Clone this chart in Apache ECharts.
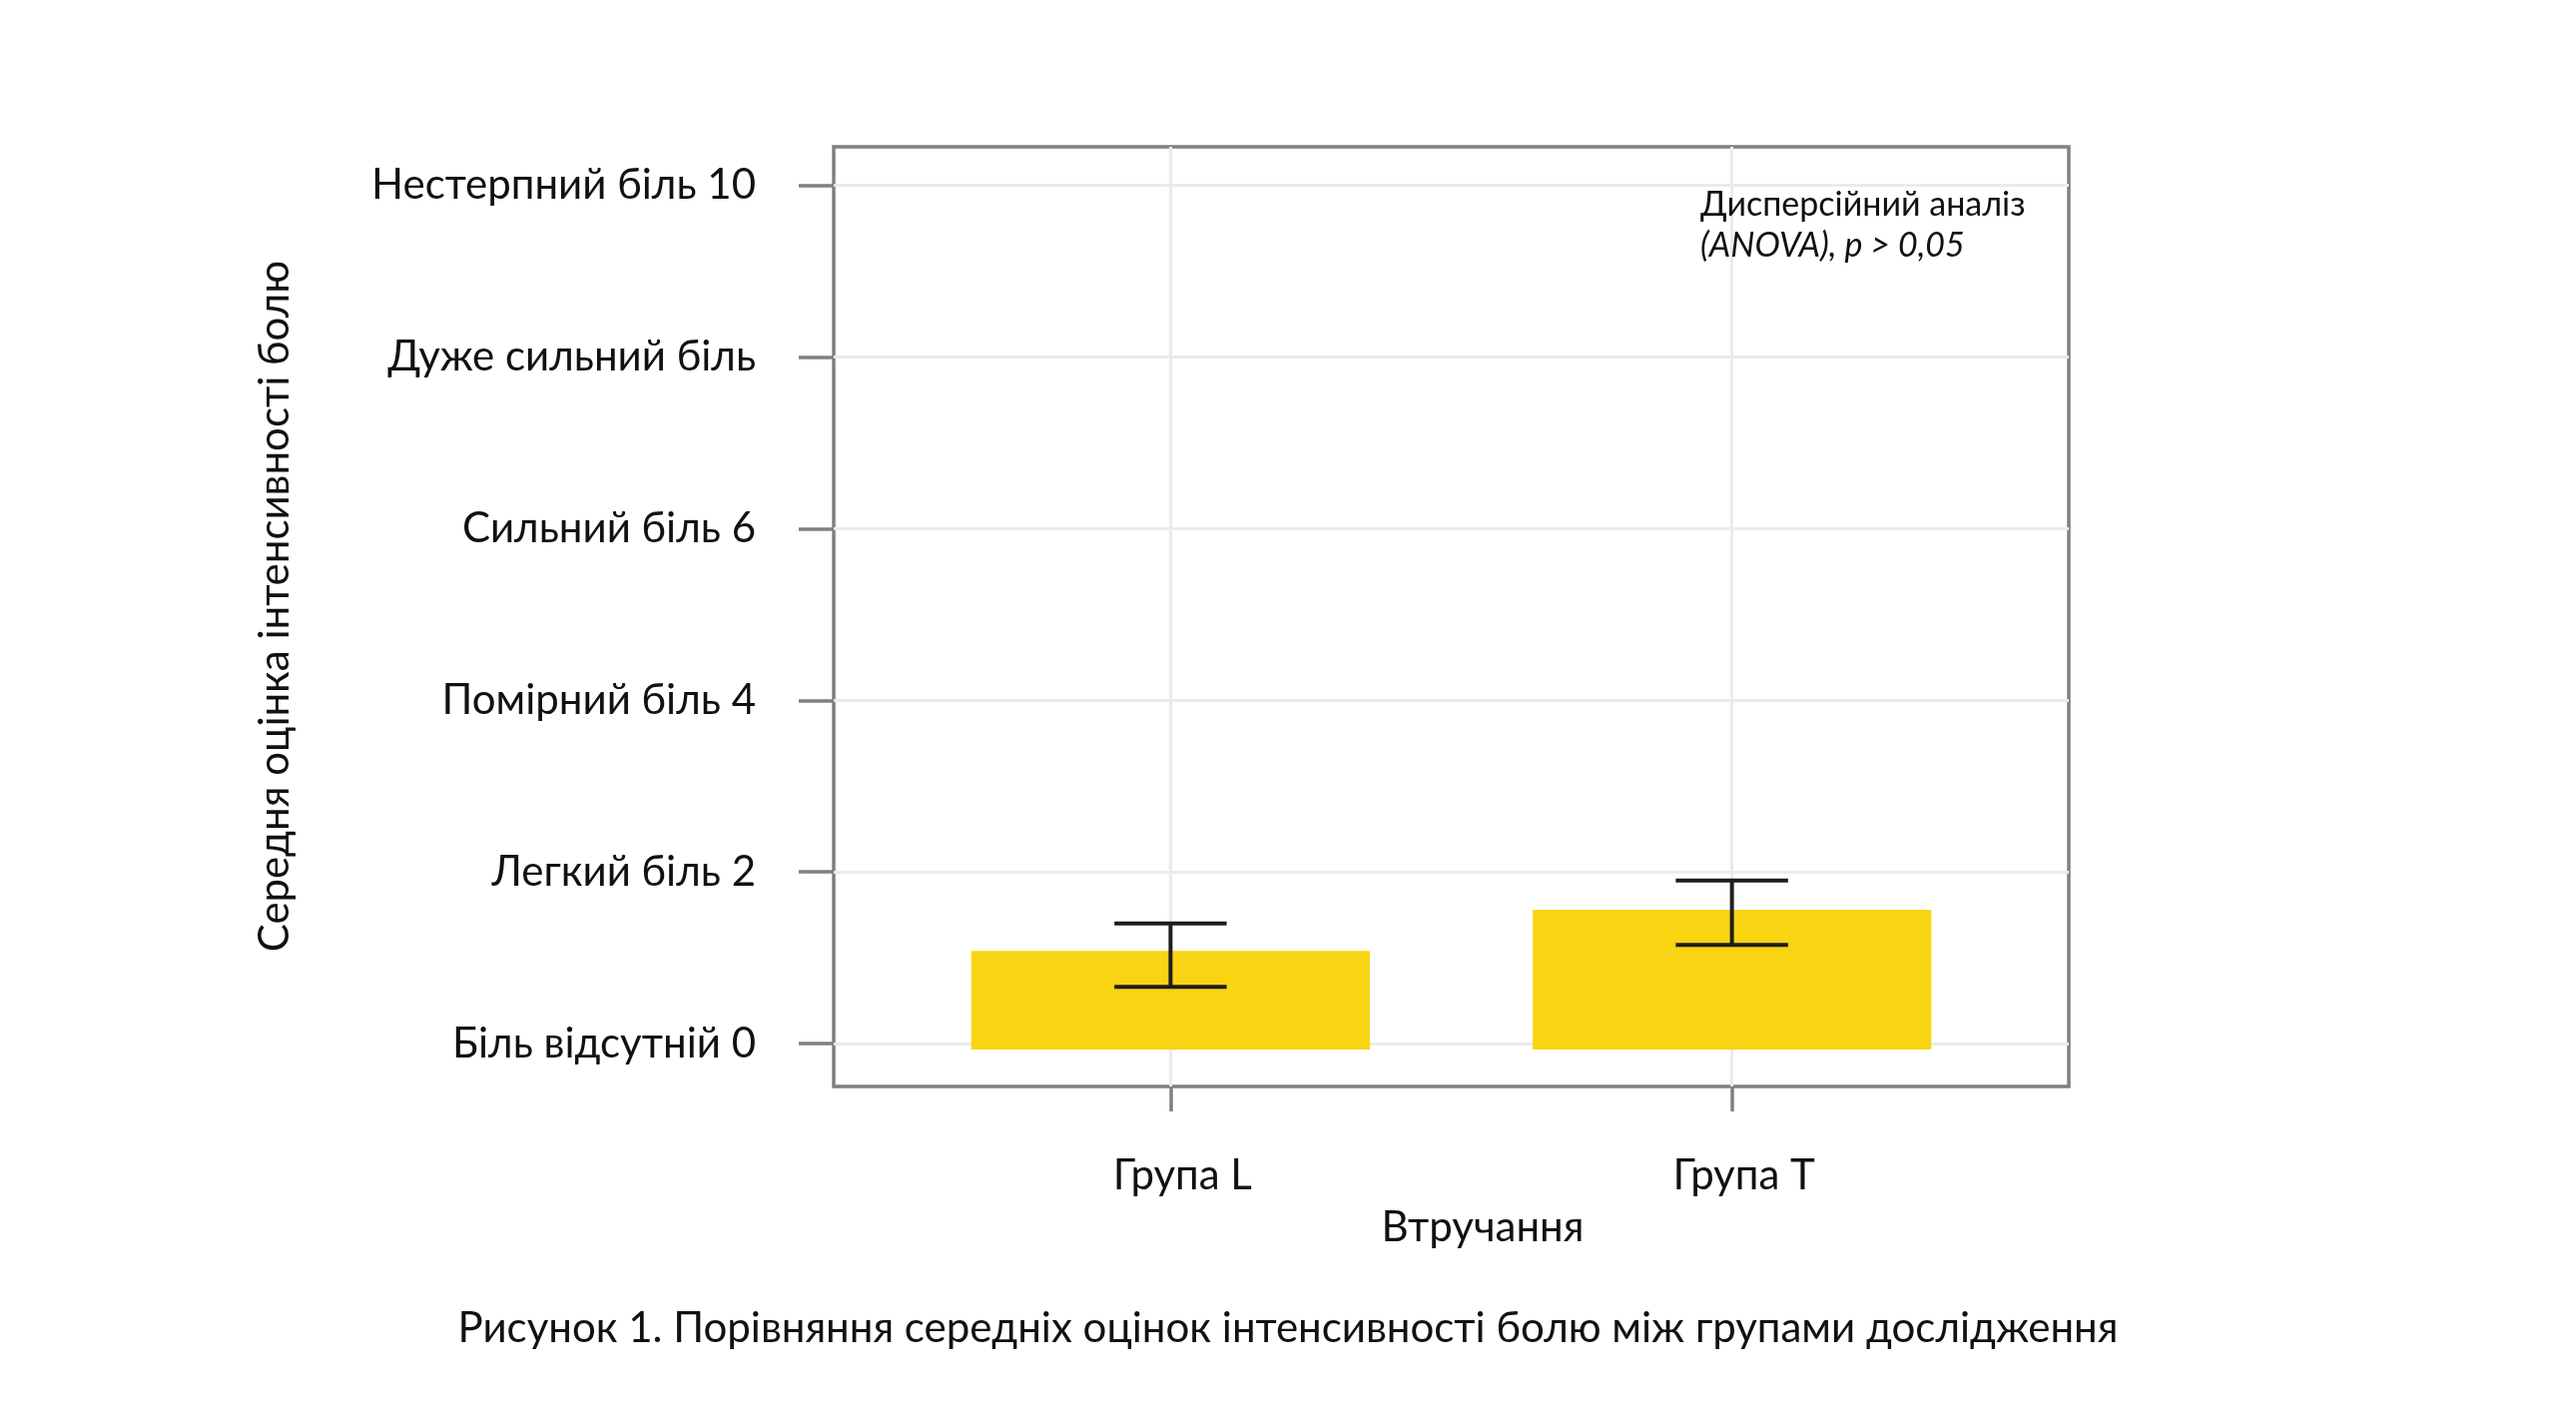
<!DOCTYPE html>
<html>
<head>
<meta charset="utf-8">
<script src="https://cdn.jsdelivr.net/npm/echarts@6/dist/echarts.min.js"></script>
<style>
  html, body { margin: 0; padding: 0; background: #fff; }
  #chart { width: 2580px; height: 1419px; }
</style>
</head>
<body>
<div id="chart"></div>
<script>
// групи дослідження та середні оцінки болю
var groups = ['Група L', 'Група T'];
var groupPos = [1, 2];
var meanPain = [1.08, 1.56];
var errLow = [0.66, 1.15];
var errHigh = [1.40, 1.90];
var barBase = -0.07;

var yTicks = [0, 2, 4, 6, 8, 10];
var yTickLabels = ['Біль відсутній 0', 'Легкий біль 2', 'Помірний біль 4',
  'Сильний біль 6', 'Дуже сильний біль', 'Нестерпний біль 10'];

var FONT = "Lato, 'Open Sans', sans-serif";
var BAR_W = 0.71;   // ширина стовпця в одиницях осі
var CAP_W = 0.2;    // ширина «вусів»

var chart = echarts.init(document.getElementById('chart'));

function renderBar(params, api) {
  var x = api.value(0);
  var p1 = api.coord([x - BAR_W / 2, api.value(1)]);
  var p2 = api.coord([x + BAR_W / 2, barBase]);
  return {
    type: 'rect',
    shape: { x: p1[0], y: p1[1], width: p2[0] - p1[0], height: p2[1] - p1[1] },
    style: { fill: '#F8D413' }
  };
}

function renderErr(params, api) {
  var x = api.value(0);
  var lo = api.coord([x, api.value(1)]);
  var hi = api.coord([x, api.value(2)]);
  var half = api.size([CAP_W / 2, 0])[0];
  var st = { stroke: '#1e1e1e', lineWidth: 4 };
  return {
    type: 'group',
    children: [
      { type: 'line', shape: { x1: lo[0], y1: lo[1], x2: hi[0], y2: hi[1] }, style: st },
      { type: 'line', shape: { x1: lo[0] - half, y1: lo[1], x2: lo[0] + half, y2: lo[1] }, style: st },
      { type: 'line', shape: { x1: hi[0] - half, y1: hi[1], x2: hi[0] + half, y2: hi[1] }, style: st }
    ]
  };
}

var option = {
  backgroundColor: '#fff',
  animation: false,
  grid: {
    left: 835, top: 147, right: 508, bottom: 331,
    show: true,
    borderColor: '#808080',
    borderWidth: 3.5,
    backgroundColor: 'transparent'
  },
  xAxis: {
    type: 'value',
    min: 0.4,
    max: 2.6,
    axisLine: { show: false, onZero: false },
    axisTick: {
      show: true, length: 25, customValues: groupPos,
      lineStyle: { color: '#808080', width: 3.5 }
    },
    axisLabel: {
      customValues: groupPos,
      margin: 68,
      padding: [0, 0, 0, 24],
      fontFamily: FONT, fontSize: 42, color: '#111',
      formatter: function (v) { return groups[Math.round(v) - 1]; }
    },
    splitLine: { show: true, lineStyle: { color: '#EBEBEB', width: 3 } }
  },
  yAxis: {
    type: 'value',
    min: -0.5,
    max: 10.45,
    axisLine: { show: false, onZero: false },
    axisTick: {
      show: true, length: 35, customValues: yTicks,
      lineStyle: { color: '#808080', width: 3.5 }
    },
    axisLabel: {
      customValues: yTicks,
      margin: 78,
      fontFamily: FONT, fontSize: 42, color: '#111',
      formatter: function (v) { return yTickLabels[yTicks.indexOf(Math.round(v))]; }
    },
    splitLine: { show: true, lineStyle: { color: '#EBEBEB', width: 3 } }
  },
  graphic: [
    {
      type: 'text', left: 1703, top: 188, z: 100,
      style: { text: 'Дисперсійний аналіз', font: '34px ' + FONT, fill: '#111' }
    },
    {
      type: 'text', left: 1703, top: 229, z: 100,
      style: { text: '(ANOVA), p > 0,05', font: 'italic 34px ' + FONT, fill: '#111' }
    },
    {
      type: 'text', x: 275, y: 607, rotation: Math.PI / 2,
      style: { text: 'Середня оцінка інтенсивності болю', font: '42px ' + FONT,
        fill: '#111', align: 'center', verticalAlign: 'middle' }
    },
    {
      type: 'text', x: 1485, y: 1229,
      style: { text: 'Втручання', font: '42px ' + FONT, fill: '#111',
        align: 'center', verticalAlign: 'middle' }
    },
    {
      type: 'text', x: 1290, y: 1330,
      style: { text: 'Рисунок 1. Порівняння середніх оцінок інтенсивності болю між групами дослідження',
        font: '42px ' + FONT, fill: '#111', align: 'center', verticalAlign: 'middle' }
    }
  ],
  series: [
    {
      type: 'custom',
      name: 'mean',
      renderItem: renderBar,
      encode: { x: 0, y: 1 },
      data: groupPos.map(function (p, i) { return [p, meanPain[i]]; }),
      z: 2
    },
    {
      type: 'custom',
      name: 'err',
      renderItem: renderErr,
      encode: { x: 0, y: [1, 2] },
      data: groupPos.map(function (p, i) { return [p, errLow[i], errHigh[i]]; }),
      z: 3
    }
  ]
};

chart.setOption(option);
</script>
</body>
</html>
